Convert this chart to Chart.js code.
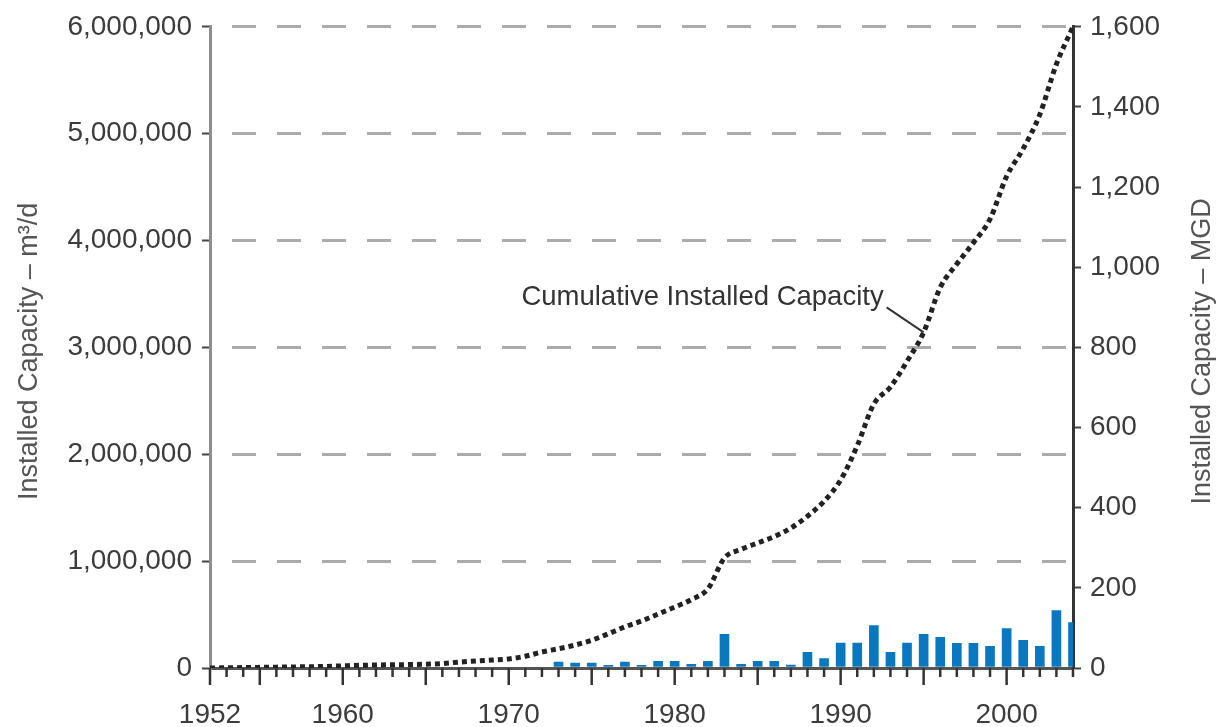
<!DOCTYPE html>
<html>
<head>
<meta charset="utf-8">
<script src="https://cdn.jsdelivr.net/npm/chart.js@4.4.1/dist/chart.umd.min.js"></script>
<style>
  html, body { margin: 0; padding: 0; background: #ffffff; }
  #wrap { width: 1224px; height: 727px; }
</style>
</head>
<body>
<div id="wrap"><canvas id="c" width="1224" height="727"></canvas></div>
<script>
// ---- data ----
const years = [1952,1953,1954,1955,1956,1957,1958,1959,1960,1961,1962,1963,1964,1965,1966,1967,1968,1969,1970,1971,1972,1973,1974,1975,1976,1977,1978,1979,1980,1981,1982,1983,1984,1985,1986,1987,1988,1989,1990,1991,1992,1993,1994,1995,1996,1997,1998,1999,2000,2001,2002,2003,2004];
const cumulativeCapacity = [0,2000,4000,6000,8000,10000,12000,15000,20000,25000,28000,30000,32000,35000,42000,55000,65000,75000,85000,110000,150000,180000,215000,260000,320000,385000,440000,505000,570000,640000,740000,1030000,1110000,1170000,1230000,1310000,1420000,1560000,1760000,2080000,2470000,2630000,2870000,3140000,3560000,3780000,3980000,4200000,4600000,4860000,5180000,5650000,6000000];
const barYears = [1973,1974,1975,1976,1977,1978,1979,1980,1981,1982,1983,1984,1985,1986,1987,1988,1989,1990,1991,1992,1993,1994,1995,1996,1997,1998,1999,2000,2001,2002,2003,2004];
const annualCapacity = [55000,45000,45000,25000,56000,25000,62000,62000,34000,62000,314000,34000,62000,62000,28000,146000,87000,233000,233000,398000,146000,233000,314000,286000,230000,230000,202000,370000,258000,202000,538000,426000];
const xLabelYears = [1952,1960,1970,1980,1990,2000];
const leftTitle = 'Installed Capacity – m³/d';
const rightTitle = 'Installed Capacity – MGD';
const annotationText = 'Cumulative Installed Capacity';
const annotationYear = 1995;

const tickFont = { family: '"Liberation Sans", Arial, sans-serif', size: 28 };
const tickColor = '#3c3c3c';

function narrowAvailable(ctx) {
  ctx.font = '33px "Liberation Sans Narrow", monospace';
  const a = ctx.measureText('Installed Capacity').width;
  ctx.font = '33px monospace';
  const b = ctx.measureText('Installed Capacity').width;
  return Math.abs(a - b) > 1;
}

const deco = {
  id: 'deco',
  afterDraw(chart) {
    const ctx = chart.ctx;
    const xs = chart.scales.x, ys = chart.scales.y;
    const base = ys.getPixelForValue(0);
    const area = chart.chartArea;
    ctx.save();
    // year tick marks below the baseline
    ctx.strokeStyle = '#333333';
    ctx.lineWidth = 2.5;
    for (const yr of years) {
      const px = xs.getPixelForValue(yr);
      const long = (yr % 5 === 0) || yr === years[0];
      ctx.beginPath();
      ctx.moveTo(px, base);
      ctx.lineTo(px, base + (long ? 17 : 9));
      ctx.stroke();
    }
    // axis titles
    const narrow = narrowAvailable(ctx);
    const titleFont = narrow ? '33px "Liberation Sans Narrow", sans-serif' : '27px "Liberation Sans", sans-serif';
    const midY = (area.top + area.bottom) / 2 + 4;
    ctx.fillStyle = '#555555';
    ctx.textAlign = 'center';
    ctx.textBaseline = 'middle';
    ctx.font = titleFont;
    ctx.save();
    ctx.translate(30, midY);
    ctx.rotate(-Math.PI / 2);
    ctx.fillText(leftTitle, 0, 0);
    ctx.restore();
    ctx.save();
    ctx.translate(1203, midY);
    ctx.rotate(-Math.PI / 2);
    ctx.fillText(rightTitle, 0, 0);
    ctx.restore();
    // annotation with leader line
    const idx = years.indexOf(annotationYear);
    const ax = xs.getPixelForValue(annotationYear);
    const ay = ys.getPixelForValue(cumulativeCapacity[idx]);
    ctx.strokeStyle = '#333333';
    ctx.lineWidth = 2;
    ctx.beginPath();
    ctx.moveTo(ax - 37, ay - 25);
    ctx.lineTo(ax, ay);
    ctx.stroke();
    ctx.fillStyle = '#333333';
    ctx.font = '27.5px "Liberation Sans", Arial, sans-serif';
    ctx.textAlign = 'right';
    ctx.textBaseline = 'alphabetic';
    ctx.fillText(annotationText, ax - 40, ay - 27);
    ctx.restore();
  }
};

new Chart(document.getElementById('c'), {
  type: 'bar',
  data: {
    datasets: [
      {
        type: 'line',
        label: 'Cumulative Installed Capacity',
        data: years.map((y, i) => ({ x: y, y: cumulativeCapacity[i] })),
        borderColor: '#222222',
        borderWidth: 5,
        borderDash: [5, 4],
        pointRadius: 0,
        cubicInterpolationMode: 'monotone',
        fill: false,
        yAxisID: 'y',
        order: 1
      },
      {
        type: 'bar',
        label: 'Annual Installed Capacity',
        data: barYears.map((y, i) => ({ x: y, y: annualCapacity[i] })),
        backgroundColor: '#0a78c0',
        borderWidth: 0,
        barThickness: 9,
        yAxisID: 'y',
        order: 2
      }
    ]
  },
  options: {
    responsive: false,
    animation: false,
    layout: { padding: { top: 25, left: 0, right: 0, bottom: 0 } },
    plugins: { legend: { display: false }, tooltip: { enabled: false } },
    scales: {
      x: {
        type: 'linear',
        min: 1952,
        max: 2004,
        offset: false,
        grid: { display: false },
        border: { display: true, color: '#555555', width: 3 },
        afterBuildTicks: (s) => { s.ticks = xLabelYears.map(v => ({ value: v })); },
        ticks: {
          font: tickFont, color: tickColor, padding: 22,
          maxRotation: 0, autoSkip: false,
          callback: (v) => String(v)
        },
        afterFit: (s) => { s.height = 59; }
      },
      y: {
        position: 'left',
        min: 0,
        max: 6000000,
        grid: {
          color: (c) => (c.tick && c.tick.value === 0) ? 'rgba(0,0,0,0)' : '#ababab',
          lineWidth: 3,
          tickColor: '#444444',
          tickWidth: 2,
          tickLength: 8,
          tickBorderDash: []
        },
        border: { display: true, color: '#8e8e8e', width: 3, dash: [24, 21], dashOffset: 25 },
        ticks: { stepSize: 1000000, font: tickFont, color: tickColor, padding: 10 },
        afterFit: (s) => { s.width = 210; }
      },
      y1: {
        position: 'right',
        min: 0,
        max: 1600,
        grid: { drawOnChartArea: false, tickColor: '#444444', tickWidth: 2, tickLength: 8 },
        border: { display: true, color: '#333333', width: 3 },
        ticks: { stepSize: 200, font: tickFont, color: tickColor, padding: 9 },
        afterFit: (s) => { s.width = 151; }
      }
    }
  },
  plugins: [deco]
});
</script>
</body>
</html>
